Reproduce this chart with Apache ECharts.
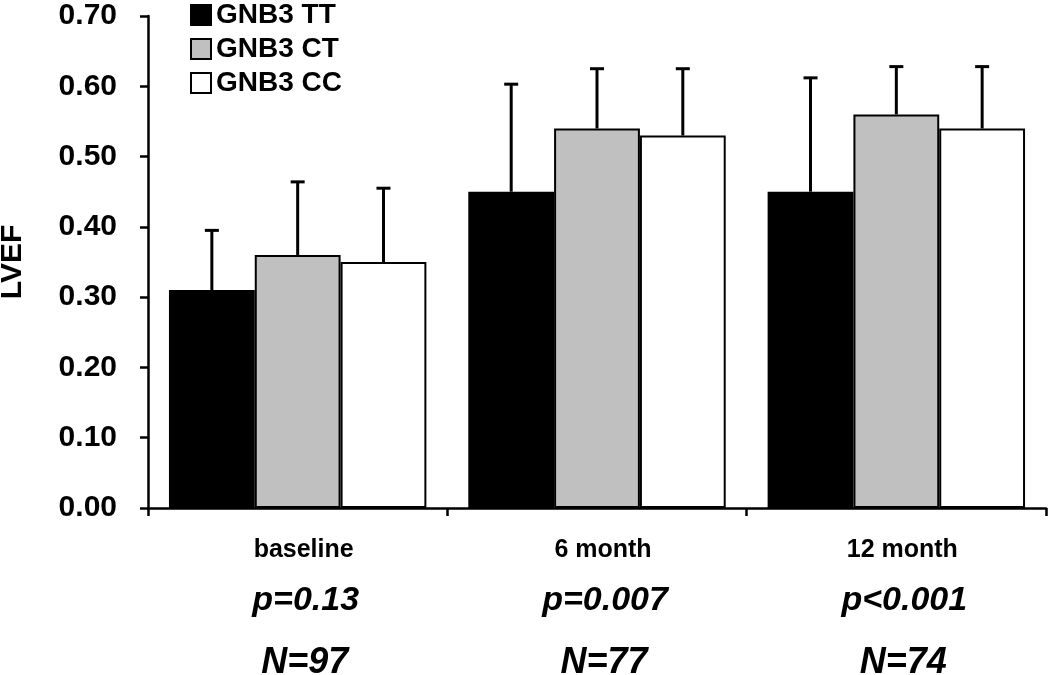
<!DOCTYPE html>
<html>
<head>
<meta charset="utf-8">
<script src="https://cdn.jsdelivr.net/npm/echarts@6/dist/echarts.min.js"></script>
<style>html,body{margin:0;padding:0;background:#fff}#c{width:1050px;height:675px}</style>
</head>
<body>
<div id="c"></div>
<script>
const categories = ['baseline', '6 month', '12 month'];
const pValues = ['p=0.13', 'p=0.007', 'p<0.001'];
const nValues = ['N=97', 'N=77', 'N=74'];
const seriesNames = ['GNB3 TT', 'GNB3 CT', 'GNB3 CC'];
const ttMean = [0.31, 0.45, 0.45];
const ctMean = [0.36, 0.54, 0.56];
const ccMean = [0.35, 0.53, 0.54];
const ttUpper = [0.395, 0.603, 0.612];
const ctUpper = [0.464, 0.625, 0.628];
const ccUpper = [0.455, 0.625, 0.628];
const yTicks = [0, 0.1, 0.2, 0.3, 0.4, 0.5, 0.6, 0.7];

const means = [ttMean, ctMean, ccMean];
const uppers = [ttUpper, ctUpper, ccUpper];
const fills = ['#000000', '#c0c0c0', '#ffffff'];
const catGap = 0.14;
const font = 'Liberation Sans, Arial, sans-serif';

const chart = echarts.init(document.getElementById('c'), null, {renderer: 'canvas'});

const barSeries = seriesNames.map((name, i) => ({
  name: name,
  type: 'bar',
  data: means[i],
  barGap: '0%',
  barCategoryGap: (catGap * 100) + '%',
  itemStyle: {color: fills[i], borderColor: '#000', borderWidth: 2},
  emphasis: {disabled: true},
  z: 2
}));

const errSeries = seriesNames.map((name, i) => ({
  type: 'custom',
  name: name + ' err',
  data: means[i].map((m, k) => [k, m, uppers[i][k]]),
  z: 3,
  silent: true,
  renderItem: function (params, api) {
    const k = api.value(0);
    const catW = api.size([1, 0])[0];
    const barW = catW * (1 - catGap) / 3;
    const base = api.coord([k, api.value(1)]);
    const top = api.coord([k, api.value(2)]);
    const x = base[0] + (i - 1) * barW;
    const style = {stroke: '#000', lineWidth: 3};
    return {
      type: 'group',
      children: [
        {type: 'line', shape: {x1: x, y1: base[1], x2: x, y2: top[1]}, style: style},
        {type: 'line', shape: {x1: x - 7, y1: top[1], x2: x + 7, y2: top[1]}, style: style}
      ]
    };
  }
}));

chart.setOption({
  animation: false,
  backgroundColor: '#fff',
  grid: {left: 148, right: 4, top: 16, bottom: 167, containLabel: false, outerBoundsMode: 'none'},
  legend: {
    data: seriesNames,
    orient: 'vertical',
    left: 185,
    top: -4,
    itemWidth: 20,
    itemHeight: 20,
    itemGap: 6,
    icon: 'rect',
    textStyle: {fontFamily: font, fontWeight: 'bold', fontSize: 28, color: '#000'},
    selectedMode: false
  },
  xAxis: {
    type: 'category',
    data: categories,
    axisLine: {lineStyle: {color: '#000', width: 2.5}},
    axisTick: {show: true, length: 8, lineStyle: {color: '#000', width: 2.5}},
    axisLabel: {
      margin: 22,
      formatter: function (v, idx) {
        return '{a|' + v + '}\n{b|' + pValues[idx] + '}\n{c|' + nValues[idx] + '}';
      },
      rich: {
        a: {fontFamily: font, fontWeight: 'bold', fontSize: 25, color: '#000', lineHeight: 40, padding: [0, 0, 0, 12]},
        b: {fontFamily: font, fontWeight: 'bold', fontStyle: 'italic', fontSize: 34, color: '#000', lineHeight: 62, padding: [0, 0, 0, 16]},
        c: {fontFamily: font, fontWeight: 'bold', fontStyle: 'italic', fontSize: 36, color: '#000', lineHeight: 62, padding: [0, 0, 0, 14]}
      }
    }
  },
  yAxis: {
    type: 'value',
    min: yTicks[0],
    max: yTicks[yTicks.length - 1],
    interval: 0.1,
    name: 'LVEF',
    nameLocation: 'middle',
    nameGap: 120,
    nameRotate: 90,
    nameTextStyle: {fontFamily: font, fontWeight: 'bold', fontSize: 30, color: '#000'},
    splitLine: {show: false},
    axisLine: {show: true, lineStyle: {color: '#000', width: 2.5}},
    axisTick: {show: true, length: 8, lineStyle: {color: '#000', width: 2.5}},
    axisLabel: {
      margin: 31,
      fontFamily: font, fontWeight: 'bold', fontSize: 30, color: '#000',
      formatter: v => v.toFixed(2)
    }
  },
  series: barSeries.concat(errSeries)
});
</script>
</body>
</html>
